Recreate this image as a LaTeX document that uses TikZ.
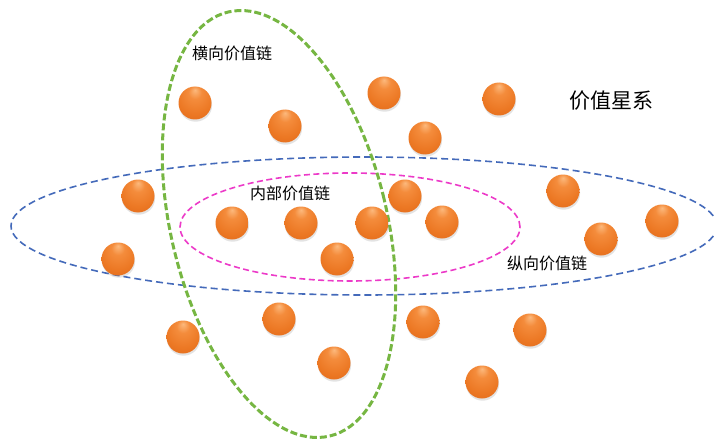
\documentclass[tikz,border=0pt]{standalone}
\usepackage{fontspec}
\setmainfont{Noto Sans CJK SC}
\usetikzlibrary{shapes.geometric,shadows}
\definecolor{ringblue}{RGB}{68,106,186}
\definecolor{ringgreen}{RGB}{118,182,66}
\definecolor{ringpink}{RGB}{236,58,200}
\definecolor{ballhi}{RGB}{252,185,125}
\definecolor{ballmid}{RGB}{244,140,60}
\definecolor{ballbody}{RGB}{236,120,36}
\definecolor{balllo}{RGB}{222,102,24}
\definecolor{balledge}{RGB}{200,88,18}
\pgfdeclareradialshading{orbshade}{\pgfpoint{0bp}{20bp}}{color(0bp)=(ballhi); color(10bp)=(ballmid); color(26bp)=(ballbody); color(42bp)=(balllo); color(50bp)=(balledge)}
\tikzset{
  orb/.style={circle, minimum size=33pt, inner sep=0pt, shade, shading=orbshade,
    drop shadow={shadow xshift=0.6pt, shadow yshift=-2.2pt, opacity=0.22}},
  ring/.style={ellipse, draw, inner sep=0pt, dash pattern=on 7pt off 4pt},
  lbl/.style={font=\fontsize{16pt}{18pt}\selectfont, text=black, inner sep=0pt}
}
\begin{document}
\begin{tikzpicture}[x=1pt,y=-1pt]
\useasboundingbox (0,0) rectangle (714,441);
% rings
\node[ring, draw=ringblue, line width=1.6pt, minimum width=706pt, minimum height=138pt] (blue) at (364,226) {};
\node[ring, draw=ringpink, line width=1.6pt, minimum width=340pt, minimum height=108pt, dash pattern=on 6pt off 3.5pt] (pink) at (350,227) {};
\node[ring, draw=ringgreen, line width=3pt, minimum width=216pt, minimum height=436pt, rotate=13.5, dash pattern=on 7pt off 3pt] (green) at (279,224) {};
% balls
\node[orb] (b1) at (195,103) {};
\node[orb] (b2) at (285,126) {};
\node[orb] (b3) at (384,93) {};
\node[orb] (b4) at (425,138) {};
\node[orb] (b5) at (499,99) {};
\node[orb] (b6) at (138,196) {};
\node[orb] (b7) at (232,223) {};
\node[orb] (b8) at (301,223) {};
\node[orb] (b9) at (372,223) {};
\node[orb] (b10) at (405,196) {};
\node[orb] (b11) at (442,222) {};
\node[orb] (b12) at (337,259) {};
\node[orb] (b13) at (118,259) {};
\node[orb] (b14) at (563,191) {};
\node[orb] (b15) at (601,239) {};
\node[orb] (b16) at (662,221) {};
\node[orb] (b17) at (183,337) {};
\node[orb] (b18) at (279,319) {};
\node[orb] (b19) at (334,363) {};
\node[orb] (b20) at (423,322) {};
\node[orb] (b21) at (530,330) {};
\node[orb] (b22) at (482,382) {};
% labels
\node[lbl] (hlab) at (232,53) {横向价值链};
\node[lbl] (ilab) at (290,193) {内部价值链};
\node[lbl] (vlab) at (547,263) {纵向价值链};
\node[lbl, font=\fontsize{21pt}{24pt}\selectfont] (glab) at (611,101) {价值星系};
\end{tikzpicture}
\end{document}
